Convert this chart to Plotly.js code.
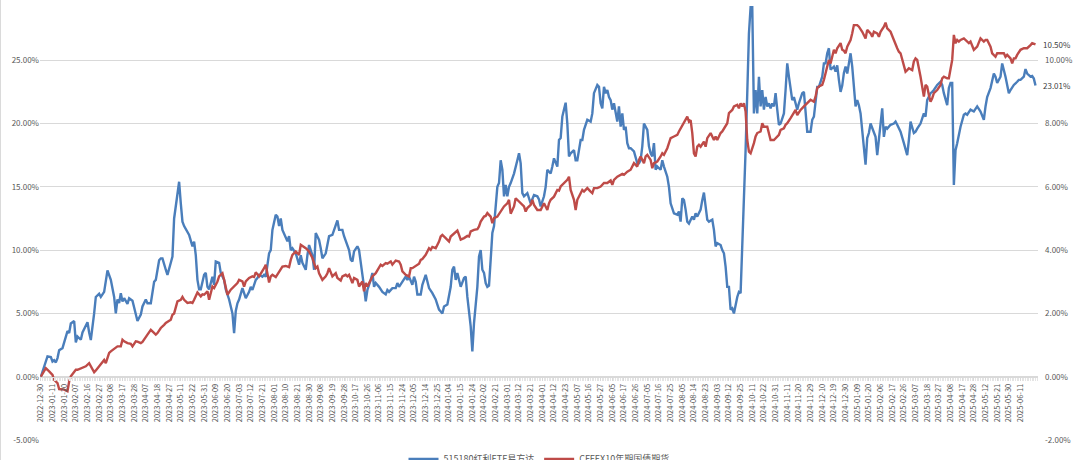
<!DOCTYPE html>
<html>
<head>
<meta charset="utf-8">
<script src="https://cdn.plot.ly/plotly-3.0.1.min.js"></script>
<style>
html, body { margin: 0; padding: 0; background: #fff; }
#chart { width: 1080px; height: 460px; }
</style>
</head>
<body>
<div id="chart"></div>
<script>
// category labels: every 7th trading day
var tickDates = ['2022-12-30','2023-01-11','2023-01-20','2023-02-07','2023-02-16','2023-02-27','2023-03-08','2023-03-17','2023-03-28','2023-04-07',
  '2023-04-18','2023-04-27','2023-05-11','2023-05-22','2023-05-31','2023-06-09','2023-06-20','2023-07-03','2023-07-12','2023-07-21',
  '2023-08-01','2023-08-10','2023-08-21','2023-08-30','2023-09-08','2023-09-19','2023-09-28','2023-10-17','2023-10-26','2023-11-06',
  '2023-11-15','2023-11-24','2023-12-05','2023-12-14','2023-12-25','2024-01-04','2024-01-15','2024-01-24','2024-02-02','2024-02-21',
  '2024-03-01','2024-03-12','2024-03-21','2024-04-01','2024-04-12','2024-04-23','2024-05-07','2024-05-16','2024-05-27','2024-06-05',
  '2024-06-17','2024-06-26','2024-07-05','2024-07-16','2024-07-25','2024-08-05','2024-08-14','2024-08-23','2024-09-03','2024-09-12',
  '2024-09-25','2024-10-11','2024-10-22','2024-10-31','2024-11-11','2024-11-20','2024-11-29','2024-12-10','2024-12-19','2024-12-30',
  '2025-01-09','2025-01-20','2025-02-06','2025-02-17','2025-02-26','2025-03-07','2025-03-18','2025-03-27','2025-04-08','2025-04-17',
  '2025-04-28','2025-05-12','2025-05-21','2025-05-30','2025-06-11'];
var labelStep = 7;

// [trading day index, cumulative return %]
var etfPoints = [[0,0],[3,1.34],[4,1.6],[6,1.55],[7,1.2],[8,1.3],[9,1.13],[10,1.47],[11,2.1],[13,2.26],
  [14,2.65],[16,3.6],[17,3.45],[18,4.2],[20,4.4],[21,2.7],[22,3.18],[24,2.92],[25,3.5],[27,4.0],
  [28,4.3],[29,3.5],[30,2.9],[32,5.0],[33,6.3],[35,6.55],[36,6.3],[38,6.7],[39,7.5],[40,8.4],
  [42,7.65],[43,7.0],[44,6.3],[45,5.0],[46,6.1],[47,5.82],[48,6.6],[49,5.95],[50,6.2],[52,5.75],
  [53,6.2],[55,6.0],[57,4.76],[58,4.4],[60,4.9],[61,5.55],[63,6.1],[64,5.8],[66,5.8],[67,6.85],
  [68,7.5],[69,7.65],[71,9.2],[72,9.35],[73,9.35],[75,8.45],[76,8.05],[78,9.0],[79,9.5],[80,12.5],
  [81,13.45],[83,15.4],[84,13.7],[85,12.25],[86,11.9],[88,11.5],[89,11.2],[91,10.3],[92,10.68],[93,9.6],
  [94,7.65],[95,6.9],[96,6.9],[98,8.05],[99,8.2],[100,7.1],[101,6.9],[103,7.9],[104,7.26],[105,9.1],
  [107,9.0],[108,8.2],[110,7.65],[111,6.9],[113,6.1],[115,5.0],[116,3.45],[117,5.2],[118,5.8],[119,6.1],
  [121,7.0],[122,6.6],[123,6.2],[125,6.7],[126,7.1],[127,6.85],[129,7.65],[130,7.8],[131,8.05],[133,7.9],
  [134,8.05],[135,7.9],[137,9.75],[138,10.0],[139,11.6],[141,12.8],[142,12.65],[143,11.9],[144,12.5],[145,11.6],
  [147,10.95],[148,10.7],[149,11.1],[150,10.0],[151,10.15],[153,9.75],[155,8.85],[156,9.6],[157,9.0],[159,8.45],
  [160,9.6],[161,10.4],[163,9.6],[164,8.45],[165,11.35],[167,10.8],[168,10.15],[169,9.35],[171,9.75],[172,10.55],
  [173,11.1],[175,11.2],[177,11.9],[178,12.35],[179,11.6],[181,11.6],[182,11.1],[183,10.7],[185,10.0],[186,9.25],
  [187,9.1],[188,9.9],[190,10.3],[191,10.0],[193,8.3],[194,7.1],[195,5.95],[196,6.85],[198,7.65],[199,8.2],
  [200,7.1],[201,7.4],[203,7.1],[205,6.7],[207,6.5],[208,6.85],[209,6.7],[211,7.0],[213,7.0],[214,7.4],
  [215,7.1],[217,7.5],[219,7.9],[220,7.65],[221,7.9],[223,7.26],[224,7.9],[225,7.5],[226,6.5],[228,6.5],
  [229,7.26],[231,8.05],[232,7.4],[233,7.0],[235,6.6],[237,6.1],[238,5.7],[239,5.3],[240,5.15],[241,5.0],
  [242,5.55],[244,5.7],[246,7.1],[247,8.45],[248,8.7],[249,7.65],[250,8.2],[251,7.5],[252,7.1],[254,7.8],
  [255,7.9],[256,6.3],[257,5.3],[258,3.97],[259,2.0],[260,4.24],[262,7.1],[263,9.5],[264,10.0],[265,8.45],
  [266,8.2],[267,7.4],[268,7.1],[269,7.2],[270,9.25],[271,11.35],[272,11.9],[273,13.7],[274,15.0],[275,15.3],
  [276,17.1],[277,16.35],[278,14.25],[279,15.15],[280,14.25],[281,15.0],[282,15.3],[284,16.05],[285,16.7],[286,17.1],
  [287,17.65],[288,16.85],[289,14.5],[290,14.25],[292,14.5],[293,14.0],[294,13.7],[296,14.35],[298,14.25],[299,14.0],
  [300,13.45],[302,14.25],[303,15.0],[304,16.35],[306,16.05],[307,16.6],[308,17.25],[310,16.6],[311,18.7],[312,18.85],
  [313,20.55],[314,21.1],[315,21.65],[316,20.0],[317,17.4],[318,17.65],[320,17.9],[321,17.1],[322,17.1],[324,18.7],
  [325,18.7],[326,19.5],[328,20.3],[330,20.15],[331,20.8],[332,22.4],[334,23.05],[335,22.9],[336,21.6],[337,21.2],
  [338,22.9],[339,22.4],[340,22.65],[341,22.1],[342,21.85],[343,21.1],[344,21.6],[346,20.15],[347,21.35],[348,19.75],
  [349,20.8],[350,19.5],[351,19.75],[352,18.45],[353,18.05],[354,18.05],[356,17.8],[358,16.85],[359,16.85],[360,17.1],
  [361,18.2],[362,20.0],[364,19.5],[365,18.2],[366,17.65],[367,17.4],[368,18.45],[369,16.35],[370,16.6],[372,16.35],
  [373,17.1],[374,16.6],[376,15.8],[377,15.0],[378,13.7],[380,12.9],[382,12.8],[383,13.05],[384,12.25],[385,14.1],
  [386,13.95],[387,13.2],[388,12.25],[389,12.1],[391,12.65],[392,12.4],[393,12.9],[394,12.65],[396,13.2],[397,13.95],
  [398,14.55],[399,13.45],[400,12.4],[401,12.25],[403,12.4],[404,11.6],[405,10.3],[406,10.55],[408,10.4],[409,10.0],
  [410,9.75],[411,8.7],[412,7.1],[413,7.1],[414,5.3],[415,5.4],[416,5.0],[418,6.3],[419,6.7],[420,6.6],
  [421,10.3],[422,12.9],[423,17.9],[424,22.4],[425,27.1],[426,29.2],[427,29.2],[428,20.8],[429,22.65],[430,20.8],
  [431,23.7],[432,21.35],[433,22.65],[434,21.1],[435,22.1],[436,21.35],[437,21.6],[438,21.2],[439,21.6],[440,21.35],
  [441,22.4],[442,21.1],[443,19.9],[444,20.0],[446,20.8],[447,22.65],[448,24.75],[449,23.7],[450,22.9],[451,21.85],
  [452,22.1],[454,21.1],[455,21.6],[456,22.1],[457,22.4],[458,22.5],[459,20.8],[460,19.35],[462,19.35],[463,20.3],
  [464,20.55],[465,21.85],[466,22.9],[467,22.9],[469,23.7],[470,24.75],[471,24.75],[472,25.55],[473,25.95],[474,24.25],
  [476,24.5],[477,24.1],[478,24.6],[479,23.45],[480,22.5],[481,23.0],[482,24.0],[483,24.5],[484,23.95],[485,24.75],
  [486,25.55],[487,24.5],[488,22.9],[489,21.35],[490,21.85],[491,21.45],[492,20.8],[493,19.25],[494,17.9],[495,16.75],
  [496,18.85],[497,19.25],[498,20.0],[499,19.6],[501,18.95],[502,17.5],[503,18.95],[504,20.0],[505,21.2],[506,18.95],
  [507,19.75],[508,19.6],[510,19.9],[512,20.0],[513,20.15],[514,19.9],[516,19.35],[518,18.45],[519,17.9],[520,17.5],
  [521,18.7],[522,20.15],[524,19.25],[525,19.35],[526,19.6],[528,20.0],[530,20.8],[531,20.55],[532,21.85],[534,22.4],
  [535,22.5],[536,22.65],[538,23.05],[540,23.3],[541,23.05],[542,22.4],[544,21.45],[545,22.8],[546,23.2],[547,23.2],
  [548,15.15],[549,17.9],[550,18.45],[551,19.25],[552,19.75],[554,20.7],[555,20.8],[556,20.7],[558,21.1],[560,20.95],
  [561,21.2],[562,21.35],[564,20.95],[566,20.3],[567,21.35],[568,22.1],[570,22.8],[572,23.95],[573,23.7],[574,23.2],
  [576,23.7],[577,24.75],[579,23.7],[581,22.4],[582,22.65],[584,23.05],[586,23.3],[587,23.45],[588,23.45],[590,23.7],
  [591,24.3],[592,23.95],[594,23.7],[595,23.75],[596,23.55],[597,23.01]];

var bondPoints = [[0,0],[3,0.27],[5,0.17],[7,0.06],[8,-0.1],[10,-0.2],[11,-0.39],[13,-0.39],[14,-0.41],[16,-0.46],
  [17,-0.15],[18,0.01],[20,0.14],[21,0.22],[22,0.22],[24,0.27],[26,0.33],[27,0.33],[29,0.43],[30,0.33],
  [32,0.14],[33,0.2],[35,0.33],[37,0.48],[38,0.53],[39,0.43],[41,0.75],[42,0.8],[45,0.9],[46,0.96],
  [48,0.96],[49,1.17],[50,1.12],[52,1.06],[54,1.04],[55,0.96],[57,1.12],[58,1.11],[60,1.06],[61,1.1],
  [64,1.33],[66,1.48],[67,1.43],[69,1.33],[70,1.38],[72,1.54],[74,1.64],[75,1.7],[78,1.8],[79,1.96],
  [80,2.0],[82,2.38],[84,2.43],[85,2.52],[86,2.43],[88,2.33],[90,2.35],[91,2.33],[92,2.43],[94,2.66],
  [96,2.54],[97,2.6],[98,2.59],[100,2.7],[101,2.43],[103,2.85],[104,2.8],[106,3.01],[107,3.17],[109,3.27],
  [110,3.06],[111,2.85],[112,2.59],[114,2.75],[116,2.85],[118,2.96],[119,3.06],[121,3.01],[122,2.85],[123,3.01],
  [125,3.12],[127,3.17],[128,3.15],[129,3.3],[131,3.17],[133,3.33],[134,3.43],[135,3.54],[137,2.98],[138,3.17],
  [139,3.22],[141,3.15],[143,3.33],[144,3.38],[145,3.48],[147,3.5],[149,3.46],[150,3.69],[151,3.85],[153,3.96],
  [155,3.85],[156,4.17],[157,4.14],[159,4.06],[161,3.96],[162,3.85],[163,3.75],[165,3.43],[166,3.48],[167,3.27],
  [169,3.06],[171,3.17],[172,3.27],[173,3.43],[175,3.17],[177,3.27],[178,3.12],[180,3.04],[181,3.17],[183,3.22],
  [184,3.17],[185,3.22],[187,2.96],[188,3.12],[190,3.06],[191,2.85],[193,3.01],[194,2.7],[195,2.96],[196,2.85],
  [198,3.06],[199,3.17],[201,3.27],[203,3.48],[204,3.54],[205,3.5],[207,3.59],[208,3.57],[210,3.64],[211,3.54],
  [213,3.67],[215,3.64],[216,3.54],[217,3.33],[219,3.22],[221,3.17],[222,3.43],[223,3.43],[225,3.5],[227,3.57],
  [228,3.69],[229,3.72],[231,3.85],[233,4.06],[234,4.01],[235,4.1],[237,4.06],[239,4.27],[240,4.43],[241,4.48],
  [243,4.38],[245,4.27],[246,4.43],[248,4.52],[250,4.62],[251,4.48],[252,4.33],[254,4.38],[256,4.45],[257,4.43],
  [258,4.59],[260,4.64],[262,4.66],[263,4.75],[264,4.9],[266,5.06],[267,5.08],[268,5.17],[270,5.06],[271,4.85],
  [272,5.01],[274,5.06],[276,5.22],[277,5.33],[278,5.38],[280,5.48],[281,5.59],[282,5.15],[284,5.38],[285,5.64],
  [286,5.59],[288,5.48],[290,5.38],[291,5.22],[292,5.33],[294,5.43],[295,5.59],[296,5.43],[298,5.27],[300,5.27],
  [301,5.38],[302,5.48],[304,5.27],[305,5.48],[306,5.59],[308,5.69],[310,5.9],[311,5.88],[312,6.01],[314,6.12],
  [316,6.22],[317,6.32],[318,5.9],[320,5.59],[321,5.27],[322,5.59],[324,5.8],[325,5.9],[326,5.85],[328,5.96],
  [330,5.85],[331,5.8],[332,5.96],[334,5.96],[336,6.01],[337,6.06],[338,6.12],[340,6.12],[342,6.2],[343,6.06],
  [344,6.22],[346,6.32],[348,6.38],[349,6.41],[350,6.38],[352,6.48],[354,6.54],[355,6.64],[356,6.75],[358,6.64],
  [359,6.85],[360,6.96],[362,6.75],[363,6.96],[364,7.01],[366,6.85],[367,6.59],[368,6.75],[370,6.8],[372,6.96],
  [373,7.06],[374,7.01],[376,7.22],[377,7.38],[378,7.54],[380,7.59],[382,7.64],[383,7.75],[384,7.85],[386,8.01],
  [387,8.11],[388,8.22],[389,8.06],[390,8.11],[391,7.7],[392,7.06],[393,6.96],[394,7.27],[395,7.33],[396,7.27],
  [398,7.43],[399,7.27],[400,7.54],[402,7.7],[404,7.48],[405,7.59],[406,7.48],[408,7.7],[409,7.75],[410,7.85],
  [412,8.01],[413,8.33],[415,8.43],[416,8.54],[418,8.59],[419,8.48],[420,8.64],[421,8.54],[422,8.64],[423,8.38],
  [424,7.48],[425,7.11],[426,7.06],[428,7.38],[429,7.59],[430,7.7],[432,7.75],[433,8.01],[434,7.9],[436,7.9],
  [437,7.64],[438,7.48],[440,7.48],[442,7.59],[443,7.64],[444,7.8],[446,7.85],[447,7.96],[448,8.01],[450,8.17],
  [452,8.33],[453,8.43],[454,8.27],[456,8.43],[458,8.54],[459,8.59],[460,8.64],[462,8.75],[464,8.69],[465,8.85],
  [466,9.12],[467,9.17],[469,9.22],[470,9.38],[472,9.8],[473,10.01],[474,9.9],[476,10.33],[477,10.22],[478,10.38],
  [480,10.54],[481,10.33],[482,10.3],[483,10.22],[484,10.43],[486,10.64],[487,10.85],[488,11.11],[490,11.11],[491,11.06],
  [493,10.9],[494,10.8],[495,10.69],[496,10.96],[498,10.85],[499,10.74],[500,10.9],[502,10.85],[503,10.74],[504,10.9],
  [506,11.06],[507,11.19],[508,11.01],[510,10.9],[511,10.74],[512,10.64],[514,10.38],[515,10.27],[516,10.22],[518,9.85],
  [519,9.64],[520,9.69],[521,9.75],[523,9.69],[524,9.96],[525,10.06],[526,10.01],[528,9.48],[529,9.17],[530,8.85],
  [531,9.22],[532,9.17],[533,8.9],[534,8.69],[535,8.8],[536,8.96],[538,9.06],[540,9.22],[541,9.43],[542,9.48],
  [544,9.43],[545,9.43],[547,10.01],[548,10.8],[549,10.54],[550,10.64],[551,10.59],[552,10.64],[554,10.69],[556,10.59],
  [557,10.54],[558,10.59],[560,10.33],[562,10.43],[563,10.59],[564,10.69],[566,10.59],[567,10.64],[568,10.64],[570,10.43],
  [571,10.22],[572,10.17],[573,10.11],[574,10.22],[576,10.22],[578,10.22],[579,10.11],[580,10.17],[582,10.06],[583,9.9],
  [584,10.06],[585,10.06],[586,10.17],[588,10.33],[590,10.38],[591,10.38],[592,10.38],[594,10.48],[595,10.54],[597,10.50]];

var etfName = '515180红利ETF易方达';
var bondName = 'CFFEX10年期国债期货';
var leftTicks = [-5, 0, 5, 10, 15, 20, 25];
var rightTicks = [-2, 0, 2, 4, 6, 8, 10];

var pct = function (v) { return v.toFixed(2) + '%'; };
var textColor = '#595959';
var fontFam = '"Noto Sans CJK SC", "Liberation Sans", sans-serif';

var trace1 = {
  x: etfPoints.map(function (p) { return p[0]; }),
  y: etfPoints.map(function (p) { return p[1]; }),
  name: etfName,
  type: 'scatter',
  mode: 'lines',
  line: { color: '#4a7ebb', width: 2.4 },
  yaxis: 'y'
};

var trace2 = {
  x: bondPoints.map(function (p) { return p[0]; }),
  y: bondPoints.map(function (p) { return p[1]; }),
  name: bondName,
  type: 'scatter',
  mode: 'lines',
  line: { color: '#be4b48', width: 2.4 },
  yaxis: 'y2'
};

var lastEtf = etfPoints[etfPoints.length - 1];
var lastBond = bondPoints[bondPoints.length - 1];

var leftMin = -5, leftMax = 29.76;
var ratio = 2.5;

var layout = {
  width: 1080,
  height: 460,
  paper_bgcolor: '#fff',
  plot_bgcolor: '#fff',
  font: { family: fontFam, size: 8, color: textColor },
  margin: { l: 40, r: 42, t: 0, b: 20, autoexpand: false },
  showlegend: true,
  legend: {
    orientation: 'h',
    x: 0.5, xanchor: 'center',
    y: -0.043, yanchor: 'middle',
    font: { size: 9, color: textColor },
    itemwidth: 30,
    bgcolor: 'rgba(0,0,0,0)'
  },
  xaxis: {
    range: [-0.5, 598.5],
    anchor: 'free',
    position: (0 - leftMin) / (leftMax - leftMin),
    showgrid: false,
    zeroline: false,
    tickmode: 'array',
    tickvals: tickDates.map(function (d, i) { return i * labelStep; }),
    ticktext: tickDates,
    tickangle: -90,
    tickfont: { size: 7.5, color: textColor },
    showline: true,
    linecolor: '#d9d9d9',
    ticks: 'outside',
    ticklen: 3,
    tickcolor: '#d9d9d9',
    minor: { ticks: 'outside', dtick: 1, tick0: 0, ticklen: 3, tickcolor: '#e4e4e4' }
  },
  yaxis: {
    range: [leftMin, leftMax],
    tickmode: 'array',
    tickvals: leftTicks,
    ticktext: leftTicks.map(pct),
    gridcolor: '#d9d9d9',
    zeroline: false,
    showline: false,
    ticks: '',
    tickfont: { size: 8, color: textColor }
  },
  yaxis2: {
    overlaying: 'y',
    side: 'right',
    range: [leftMin / ratio, leftMin / ratio + (leftMax - leftMin) / ratio],
    tickmode: 'array',
    tickvals: rightTicks,
    ticktext: rightTicks.map(pct),
    showgrid: false,
    zeroline: false,
    showline: false,
    ticks: '',
    ticklabelstandoff: 6,
    tickfont: { size: 8, color: textColor }
  },
  annotations: [
    { x: lastEtf[0], y: lastEtf[1], xref: 'x', yref: 'y', text: pct(lastEtf[1]),
      showarrow: false, xanchor: 'left', xshift: 5, font: { size: 8, color: '#404040' } },
    { x: lastBond[0], y: lastBond[1], xref: 'x', yref: 'y2', text: pct(lastBond[1]),
      showarrow: false, xanchor: 'left', xshift: 5, font: { size: 8, color: '#404040' } }
  ],
  shapes: [
    { type: 'line', xref: 'paper', yref: 'paper', x0: -0.0396, x1: -0.0396, y0: -0.05, y1: 1,
      line: { color: '#d9d9d9', width: 1 } }
  ]
};

Plotly.newPlot('chart', [trace1, trace2], layout, { displayModeBar: false, staticPlot: true });
</script>
</body>
</html>
